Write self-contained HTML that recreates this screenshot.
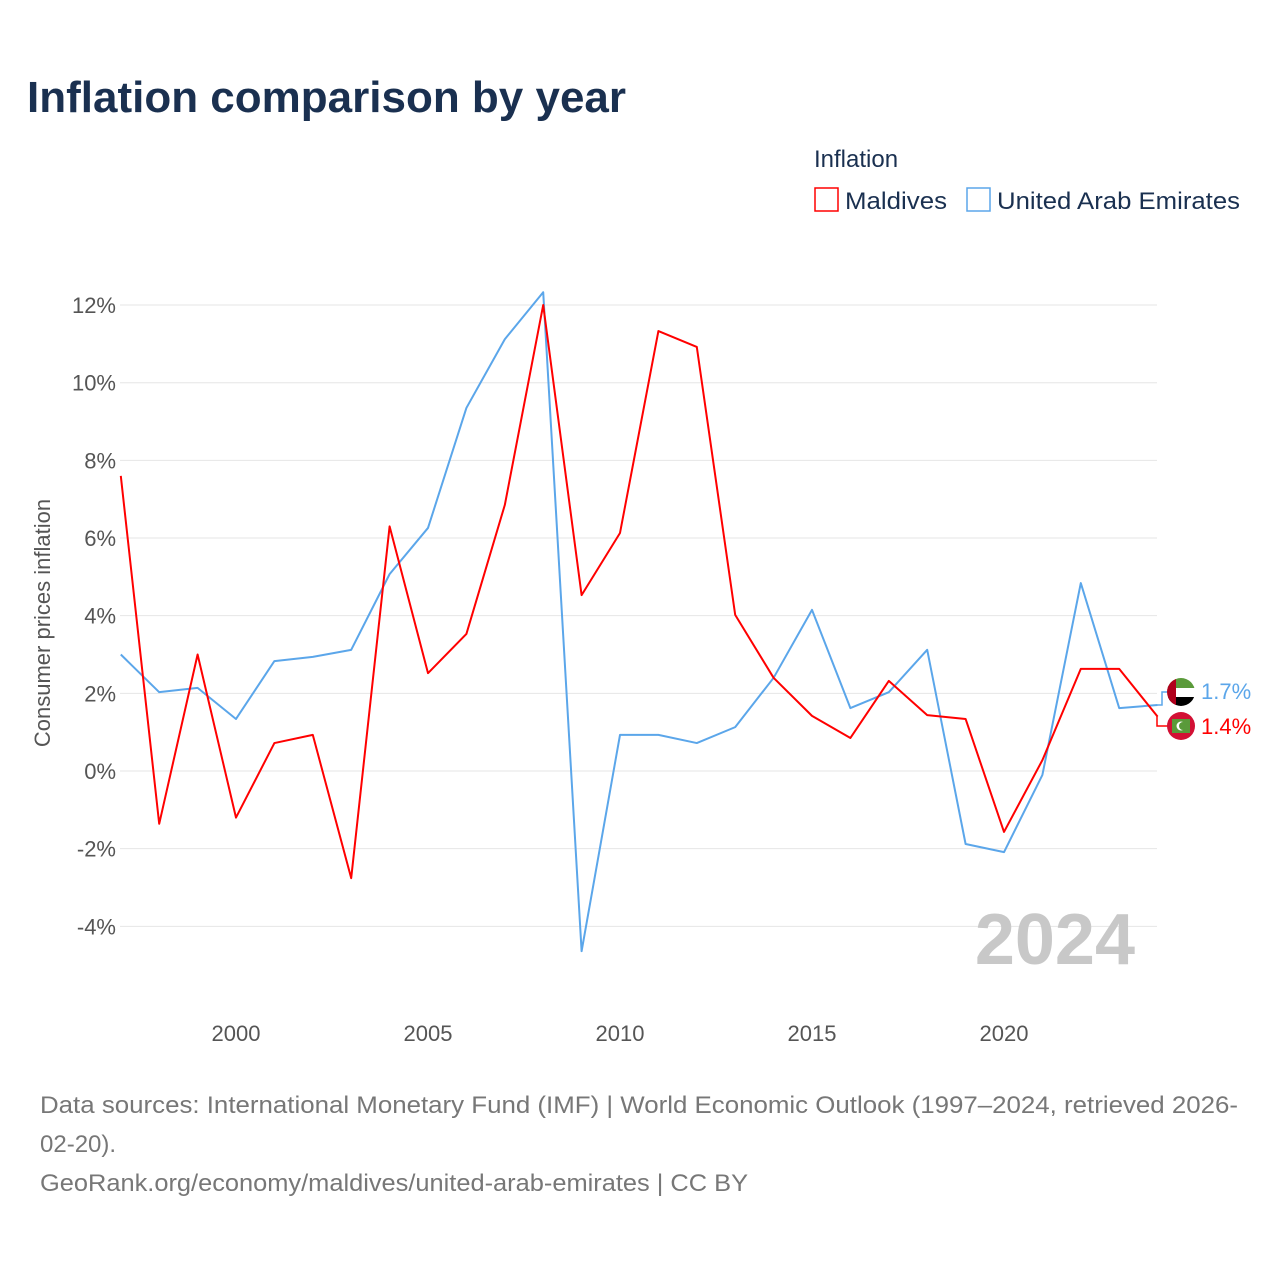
<!DOCTYPE html>
<html><head><meta charset="utf-8">
<style>
body{margin:0;background:#fff;width:1280px;height:1280px;overflow:hidden;font-family:"Liberation Sans",sans-serif}
</style></head>
<body>
<svg id="c" width="1280" height="1280" xmlns="http://www.w3.org/2000/svg">
<text x="27" y="112" font-size="44" font-weight="bold" fill="#1a3050">Inflation comparison by year</text>
<text x="814" y="167" font-size="24" fill="#1a3050">Inflation</text>
<g><rect x="815" y="188" width="23" height="23" fill="none" stroke="#f00" stroke-width="1.5"/><text x="845" y="209" font-size="24" fill="#1a3050" textLength="102" lengthAdjust="spacingAndGlyphs">Maldives</text></g>
<g><rect x="967" y="188" width="23" height="23" fill="none" stroke="#5ba6ea" stroke-width="1.5"/><text x="997" y="209" font-size="24" fill="#1a3050" textLength="243" lengthAdjust="spacingAndGlyphs">United Arab Emirates</text></g>
<text transform="translate(50,623) rotate(-90)" text-anchor="middle" font-size="22" fill="#555">Consumer prices inflation</text>
<g id="grid"></g><g id="xt"></g>
<text x="1135" y="964" text-anchor="end" font-size="72" font-weight="bold" fill="#c8c8c8">2024</text>
<g id="lines"></g>
<text x="40" y="1113" font-size="24" fill="#777" textLength="1198" lengthAdjust="spacingAndGlyphs">Data sources: International Monetary Fund (IMF) | World Economic Outlook (1997–2024, retrieved 2026-</text>
<text x="40" y="1152" font-size="24" fill="#777">02-20).</text>
<text x="40" y="1191" font-size="24" fill="#777" textLength="708" lengthAdjust="spacingAndGlyphs">GeoRank.org/economy/maldives/united-arab-emirates | CC BY</text>
</svg>
<script>
const years=[1997,1998,1999,2000,2001,2002,2003,2004,2005,2006,2007,2008,2009,2010,2011,2012,2013,2014,2015,2016,2017,2018,2019,2020,2021,2022,2023,2024];
const maldives=[7.6,-1.36,3.0,-1.2,0.72,0.93,-2.76,6.3,2.52,3.53,6.85,12.0,4.53,6.13,11.33,10.92,4.02,2.4,1.42,0.85,2.32,1.44,1.34,-1.57,0.28,2.63,2.63,1.4];
const uae=[3.0,2.03,2.14,1.34,2.83,2.94,3.12,5.07,6.26,9.35,11.12,12.33,-4.64,0.93,0.93,0.72,1.13,2.4,4.15,1.62,2.03,3.12,-1.88,-2.09,-0.1,4.84,1.62,1.7];
const yTicks=[-4,-2,0,2,4,6,8,10,12];
const xTicks=[2000,2005,2010,2015,2020];
const NS='http://www.w3.org/2000/svg';
const X=v=>120.8+(v-1997)*38.4, Y=v=>771-v*38.83;
function mk(t,a,p){const e=document.createElementNS(NS,t);for(const k in a)e.setAttribute(k,a[k]);p.appendChild(e);return e;}
const g=document.getElementById('grid');
yTicks.forEach(t=>{const l=mk('line',{x1:120,x2:1157,y1:Y(t),y2:Y(t),stroke:'#e6e6e6'},g);


const tx=mk('text',{x:116,y:Y(t)+8,'text-anchor':'end','font-size':22,fill:'#555'},g);tx.textContent=t+'%';

});
const xt=document.getElementById('xt');
xTicks.forEach(t=>{const tx=mk('text',{x:X(t),y:1041,'text-anchor':'middle','font-size':22,fill:'#555'},xt);tx.textContent=t;

});
const L=document.getElementById('lines');
function line(d,c,n){const p=mk('polyline',{points:d.map((v,i)=>X(years[i])+','+Y(v)).join(' '),fill:'none',stroke:c,'stroke-width':2,'stroke-linejoin':'round'},L);

}
line(uae,'#5ba6ea','uae-line');line(maldives,'#f00','maldives-line');
const lu=uae[uae.length-1],lm=maldives[maldives.length-1],xe=X(2024);
mk('polyline',{points:`${xe},${Y(lu)} 1162,${Y(lu)} 1162,692 1168,692`,fill:'none',stroke:'#5ba6ea','stroke-width':1.5},L);
mk('polyline',{points:`${xe},${Y(lm)} 1157,${Y(lm)} 1157,726 1168,726`,fill:'none',stroke:'#f00','stroke-width':1.5},L);
const fu=mk('g',{},L);
mk('clipPath',{id:'cu'},fu).appendChild(document.createElementNS(NS,'circle')).setAttribute('r','14');
document.querySelector('#cu circle').setAttribute('cx',1181);document.querySelector('#cu circle').setAttribute('cy',692);
const gu=mk('g',{'clip-path':'url(#cu)'},fu);
mk('rect',{x:1167,y:678,width:28,height:10,fill:'#5a9a3a'},gu);mk('rect',{x:1167,y:688,width:28,height:9,fill:'#fff'},gu);
mk('rect',{x:1167,y:697,width:28,height:10,fill:'#000'},gu);mk('rect',{x:1167,y:678,width:9,height:28,fill:'#b0001c'},gu);
const fm=mk('g',{},L);
mk('circle',{cx:1181,cy:726,r:14,fill:'#d21034'},fm);mk('rect',{x:1172,y:719,width:18,height:14,fill:'#5a9a3a'},fm);
mk('circle',{cx:1181,cy:726,r:4.5,fill:'#fff'},fm);mk('circle',{cx:1183,cy:726,r:4,fill:'#5a9a3a'},fm);
const t1=mk('text',{x:1201,y:699,'font-size':22,fill:'#5ba6ea'},L);t1.textContent=lu.toFixed(1)+'%';

const t2=mk('text',{x:1201,y:734,'font-size':22,fill:'#f00'},L);t2.textContent=lm.toFixed(1)+'%';

</script>
</body></html>
